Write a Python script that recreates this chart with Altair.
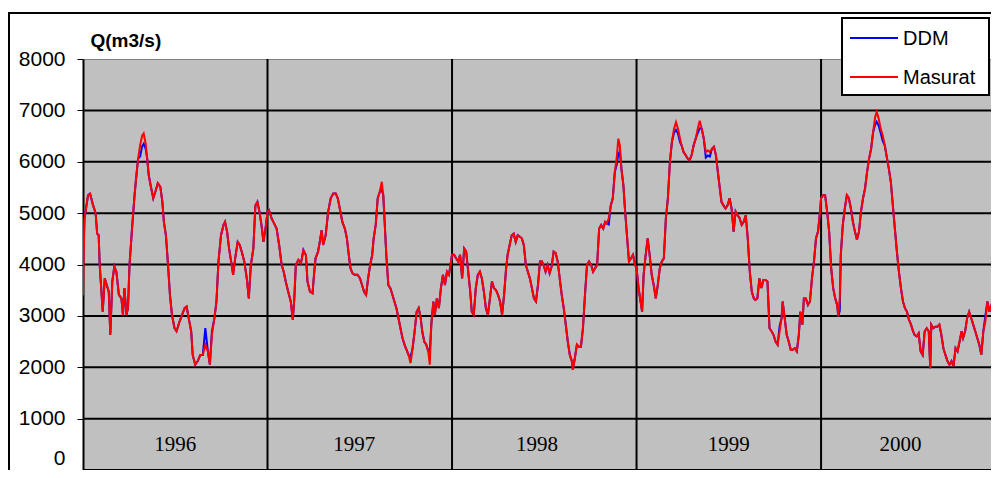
import altair as alt
import pandas as pd

YEARS = [1996, 1997, 1998, 1999, 2000]

DAYS = {
    1996: [0,1,3,10,14,20,25,28,31,33, 36,39,43,47,51,54,58,62,66,71, 76,79,82,86,89,92,97,102,105,109,
           113,117,120,124,127,130,135,139,143,148, 153,157,160,164,168,172,176,181,185,191,
           196,201,205,209,214,217,222,227,232,237, 242,247,251,255,260,264,268,273,278,281,
           285,289,293,297,301,306,310,314,319,324, 328,332,337,341,345,349,353,357,362],
    1997: [0,3,8,13,18,23,28,32,36,41, 46,50,53,56,61,66,71,76,79,84, 89,92,95,100,104,107,110,115,120,125,
           130,135,139,143,148,153,157,160,164,168, 172,178,183,187,191,195,199,203,207,210,
           214,218,222,226,229,232,235,239,243,247, 251,255,259,263,267,271,275,279,283,287,
           291,295,299,303,306,310,314,318,321,324, 328,331,335,339,343,347,351,355,359,363],
    1998: [0,4,8,12,16,20,24,28,32,36, 39,43,47,51,55,59,63,67,71,75, 79,83,87,91,95,99,103,107,110,114,
           118,122,126,130,134,138,142,146,150,154, 158,162,166,170,174,178,182,185,189,193,
           197,201,205,209,213,217,221,225,229,233, 237,239,243,247,251,255,259,263,267,271,
           275,279,283,287,291,295,299,303,306,310, 314,318,322,326,329,332,335,339,342,346,
           350,354,358,362],
    1999: [0,4,8,11,14,18,22,26,30,34, 38,42,46,50,54,58,62,66,70,74, 78,82,86,89,93,97,101,105,109,113,
           117,121,125,129,133,137,141,145,149,153, 157,160,164,168,172,176,180,184,188,192,
           196,200,204,208,212,216,220,224,228,232, 235,239,243,247,251,255,259,263,267,271,
           275,279,283,287,289,293,297,301,305,309, 313,317,321,324,328,331,335,339,343,347,
           351,355,359,363],
    2000: [0,4,8,12,16,20,24,28,32,34, 37,39,43,47,51,55,59,63,67,71, 75,79,83,87,91,95,99,103,107,110,
           114,118,122,126,130,134,138,142,146,150, 154,158,162,166,170,174,178,182,185,189,
           193,197,201,205,209,213,216,218,222,226, 230,234,238,242,246,250,254,258,262,266,
           270,274,278,281,285,289,293,297,301,305, 309,313,317,321,325,329,333,337,341,345,
           349],
}

MASURAT = {
    1996: [3400,4000,4900,5350,5380,5150,5000,4600,4570,4000, 3540,3080,3730,3600,3470,2630,3670,3960,3860,3410,
           3340,3020,3540,3020,3150,3990,4700,5350,5670,6060, 6320,6510,6550,6350,6060,5740,5480,5290,5410,5580,
           5510,5220,4830,4570,4020,3410,3020,2760,2700,2890, 3020,3150,3180,2960,2700,2240,2050,2120,2240,2240,
           2440,2310,2050,2630,2960,3280,4060,4570,4770,4830, 4640,4310,4060,3800,4120,4440,4380,4250,4060,3730,
           3340,3990,4310,5150,5220,5030,4770,4440,4770],
    1997: [5030,5060,4900,4800,4700,4380,3990,3860,3670,3470, 3280,2920,3340,3990,4090,4020,4280,4180,3670,3470,
           3440,3800,4120,4250,4480,4670,4380,4570,5030,5290, 5380,5380,5290,5090,4830,4700,4510,4250,3930,3830,
           3800,3800,3730,3600,3470,3410,3730,3990,4180,4510, 4770,5290,5410,5610,5350,4770,4180,3600,3540,3410,
           3280,3150,2960,2760,2570,2440,2340,2240,2080,2370, 2700,3080,3150,2960,2700,2500,2440,2310,2050,2830,
           3280,3020,3340,3150,3540,3800,3600,3860,3800,4060],
    1998: [4190,4190,4120,4060,4190,3730,4310,4250,3860,3470, 3080,3020,3540,3800,3860,3730,3470,3150,3020,3340,
           3670,3540,3500,3410,3280,3020,3410,3930,4190,4380, 4570,4600,4440,4570,4540,4510,4380,3990,3860,3730,
           3540,3340,3280,3600,4060,4060,3960,3860,3990,3830, 3960,4250,4220,4060,3730,3410,3150,2830,2500,2240,
           2120,1950,2180,2440,2400,2400,2760,3410,3990,4060, 3990,3860,3930,3990,4700,4770,4700,4830,4800,4900,
           5150,5290,5800,6100,6450,6320,5870,5540,5090,4570, 4060,4120,4190,3990],
    1999: [3930,3540,3280,3080,3800,4180,4510,4180,3800,3600, 3340,3600,3930,4060,4120,4900,5290,6000,6390,6640,
           6770,6640,6450,6320,6190,6130,6060,6030,6130,6320, 6450,6640,6800,6640,6450,6190,6220,6190,6250,6290,
           6130,5870,5540,5220,5150,5090,5150,5290,5090,4640, 5030,4960,4900,4770,4830,4960,4510,3860,3470,3340,
           3310,3340,3730,3540,3700,3700,3670,2760,2700,2630, 2500,2440,2700,2960,3280,2960,2630,2500,2340,2340,
           2370,2310,2630,3080,2830,3340,3340,3210,3280,3730, 4060,4510,4640,5030],
    2000: [5290,5350,5350,5030,4640,3930,3540,3340,3210,2990, 3340,4180,4770,5090,5350,5290,5090,4830,4640,4480,
           4640,5030,5290,5480,5800,6060,6250,6580,6870,6970, 6840,6640,6510,6320,6090,5870,5610,5150,4700,4250,
           3860,3540,3280,3150,3080,2920,2830,2700,2630,2600, 2660,2310,2240,2700,2760,2700,1980,2830,2760,2790,
           2790,2830,2630,2370,2240,2120,2050,2120,2020,2370, 2310,2500,2700,2570,2700,2960,3080,2960,2830,2700,
           2570,2440,2240,2700,2890,3280,3080,3210,3080,2960, 2570],
}

DDM = {
    1996: [3900,4300,4900,5350,5380,5150,5000,4600,4570,4000, 3540,3080,3730,3600,3470,2630,3670,3960,3860,3410,
           3340,3020,3540,3020,3150,3990,4700,5350,5670,6060, 6100,6300,6350,6250,6060,5740,5480,5290,5410,5580,
           5510,5220,4830,4570,4020,3410,3020,2760,2700,2890, 3020,3150,3180,2960,2700,2240,2050,2120,2240,2240,
           2760,2310,2050,2700,2960,3280,4060,4570,4770,4830, 4640,4310,4060,3800,4120,4440,4380,4250,4060,3730,
           3340,3990,4310,5150,5220,5030,4770,4440,4770],
    1997: [5030,5060,4900,4800,4700,4380,3990,3860,3670,3470, 3280,2920,3340,3990,4090,4020,4280,4180,3670,3470,
           3440,3800,4120,4250,4480,4670,4380,4570,5030,5290, 5380,5380,5290,5090,4830,4700,4510,4250,3930,3830,
           3800,3800,3730,3600,3470,3410,3730,3990,4180,4510, 4770,5290,5410,5450,5350,4770,4180,3600,3540,3410,
           3280,3150,2960,2760,2570,2440,2340,2240,2200,2370, 2700,3080,3150,2960,2700,2500,2440,2310,2300,2830,
           3280,3020,3340,3150,3540,3800,3600,3860,3800,4060],
    1998: [4190,4190,4120,4060,4190,3730,4310,4250,3860,3470, 3080,3020,3540,3800,3860,3730,3470,3150,3020,3340,
           3670,3540,3500,3410,3280,3020,3410,3930,4190,4380, 4570,4600,4440,4570,4540,4510,4380,3990,3860,3730,
           3540,3340,3280,3600,4060,4060,3960,3860,3990,3830, 3960,4250,4220,4060,3730,3410,3150,2830,2500,2240,
           2120,1950,2180,2440,2400,2400,2760,3410,3990,4060, 3990,3860,3930,3990,4700,4770,4700,4830,4800,4780,
           5150,5290,5800,5950,6150,6200,5870,5540,5090,4570, 4060,4120,4190,3990],
    1999: [3930,3540,3280,3080,3800,4180,4510,4180,3800,3600, 3340,3600,3930,4060,4120,4900,5290,6000,6390,6560,
           6620,6550,6380,6320,6190,6130,6060,6030,6130,6320, 6450,6560,6650,6640,6450,6080,6120,6100,6250,6290,
           6130,5870,5540,5220,5150,5090,5150,5290,5090,4640, 5030,4960,4900,4770,4830,4960,4510,3860,3470,3340,
           3310,3340,3730,3540,3700,3700,3670,2760,2700,2630, 2500,2440,2800,2960,3280,2960,2630,2500,2340,2340,
           2370,2310,2630,3080,2830,3340,3340,3210,3280,3730, 4060,4510,4640,5030],
    2000: [5290,5350,5350,5030,4640,3930,3540,3340,3210,2990, 3100,4180,4770,5090,5350,5290,5090,4830,4640,4480,
           4640,5030,5290,5480,5800,6060,6250,6580,6720,6780, 6700,6560,6400,6320,6090,5870,5610,5150,4700,4250,
           3860,3540,3280,3150,3080,2920,2830,2700,2630,2600, 2660,2310,2240,2700,2760,2700,1980,2830,2760,2790,
           2790,2830,2630,2370,2240,2120,2050,2120,2020,2370, 2310,2500,2700,2570,2700,2960,3080,2960,2830,2700,
           2570,2440,2240,2700,3000,3280,3080,3210,3080,2960, 2570],
}

SERIES = ["DDM", "Masurat"]
COLORS = ["#0000FF", "#FF0000"]
Y_TICKS = [0, 1000, 2000, 3000, 4000, 5000, 6000, 7000, 8000]
GRID_Q = [0, 1000, 2000, 3000, 4000, 5000, 6000, 7000]
YEAR_BOUNDS = [1997, 1998, 1999, 2000]
YEAR_LABELS = ["1996", "1997", "1998", "1999", "2000"]
YEAR_LABEL_T = [1996.50, 1997.47, 1998.46, 1999.50, 2000.43]

rows = []
for y in YEARS:
    for d, m, dd in zip(DAYS[y], MASURAT[y], DDM[y]):
        t = y + d / 365.0
        rows.append({"t": t, "series": "DDM", "q": dd})
        rows.append({"t": t, "series": "Masurat", "q": m})
df = pd.DataFrame(rows)

xscale = alt.Scale(domain=[1996, 2000.921], nice=False, zero=False)
yscale = alt.Scale(domain=[0, 8000], nice=False)
cscale = alt.Scale(domain=SERIES, range=COLORS)

yaxis = alt.Axis(
    values=Y_TICKS, format="d", grid=False, domain=True, domainColor="black", domainWidth=2,
    ticks=True, tickColor="black", tickSize=6, tickWidth=1,
    labelFont="Liberation Sans", labelFontSize=21, labelColor="black", labelPadding=12,
    labelBaseline={"condition": {"test": "datum.value === 0", "value": "bottom"}, "value": "middle"},
    labelOffset={"condition": {"test": "datum.value === 0", "value": -2}, "value": 0},
    title="Q(m3/s)", titleAngle=0, titleX=7, titleY=-13, titleAlign="left",
    titleBaseline="alphabetic", titleFont="Liberation Sans", titleFontWeight="bold",
    titleFontSize=19, titleColor="black",
)

one = pd.DataFrame({"a": [0]})

frame = alt.Chart(one).mark_rect(
    fillOpacity=0, stroke="black", strokeWidth=2
).encode(x=alt.value(-74), x2=alt.value(1200), y=alt.value(-46), y2=alt.value(600))

hgrid = alt.Chart(pd.DataFrame({"q": GRID_Q})).mark_rule(color="black", strokeWidth=2).encode(
    y=alt.Y("q:Q", scale=yscale, axis=yaxis)
)
vgrid = alt.Chart(pd.DataFrame({"t": YEAR_BOUNDS})).mark_rule(color="black", strokeWidth=2).encode(
    x=alt.X("t:Q", scale=xscale, axis=None)
)

def series_line(name):
    return alt.Chart(df).transform_filter(alt.datum.series == name).mark_line(
        strokeWidth=2, interpolate="linear", clip=True
    ).encode(
        x=alt.X("t:Q", scale=xscale, axis=None),
        y=alt.Y("q:Q", scale=yscale, axis=yaxis),
        color=alt.Color("series:N", scale=cscale, legend=None),
    )

ddm_line = series_line("DDM")
mas_line = series_line("Masurat")

labels = alt.Chart(pd.DataFrame({"t": YEAR_LABEL_T, "label": YEAR_LABELS})).mark_text(
    font="Liberation Serif", fontSize=21, color="black", baseline="alphabetic", align="center"
).encode(
    x=alt.X("t:Q", scale=xscale, axis=None),
    y=alt.datum(370),
    text="label:N",
)

# legend box (drawn with marks so its size matches the original)
leg_box = alt.Chart(one).mark_rect(fill="white", stroke="black", strokeWidth=2).encode(
    x=alt.value(759), x2=alt.value(906), y=alt.value(-41), y2=alt.value(36)
)
leg_ddm = alt.Chart(one).mark_rule(strokeWidth=2).encode(
    x=alt.value(767), x2=alt.value(815), y=alt.value(-21), color=alt.value(COLORS[0])
)
leg_mas = alt.Chart(one).mark_rule(strokeWidth=2).encode(
    x=alt.value(767), x2=alt.value(815), y=alt.value(18), color=alt.value(COLORS[1])
)
leg_ddm_t = alt.Chart(one).mark_text(
    font="Liberation Sans", fontSize=20, color="black", align="left", baseline="middle"
).encode(x=alt.value(820), y=alt.value(-20), text=alt.value(SERIES[0]))
leg_mas_t = alt.Chart(one).mark_text(
    font="Liberation Sans", fontSize=20, color="black", align="left", baseline="middle"
).encode(x=alt.value(820), y=alt.value(19), text=alt.value(SERIES[1]))

chart = alt.layer(
    frame, hgrid, vgrid, ddm_line, mas_line, labels,
    leg_box, leg_ddm, leg_mas, leg_ddm_t, leg_mas_t,
).properties(
    width=908, height=411,
    autosize=alt.AutoSizeParams(type="none"),
    padding={"left": 75, "top": 51, "right": 0, "bottom": 0},
    background="white",
).configure_view(
    fill="#C0C0C0", stroke="#808080", strokeWidth=1
)

chart.save("out.html", embed_options={"renderer": "svg", "actions": False})
